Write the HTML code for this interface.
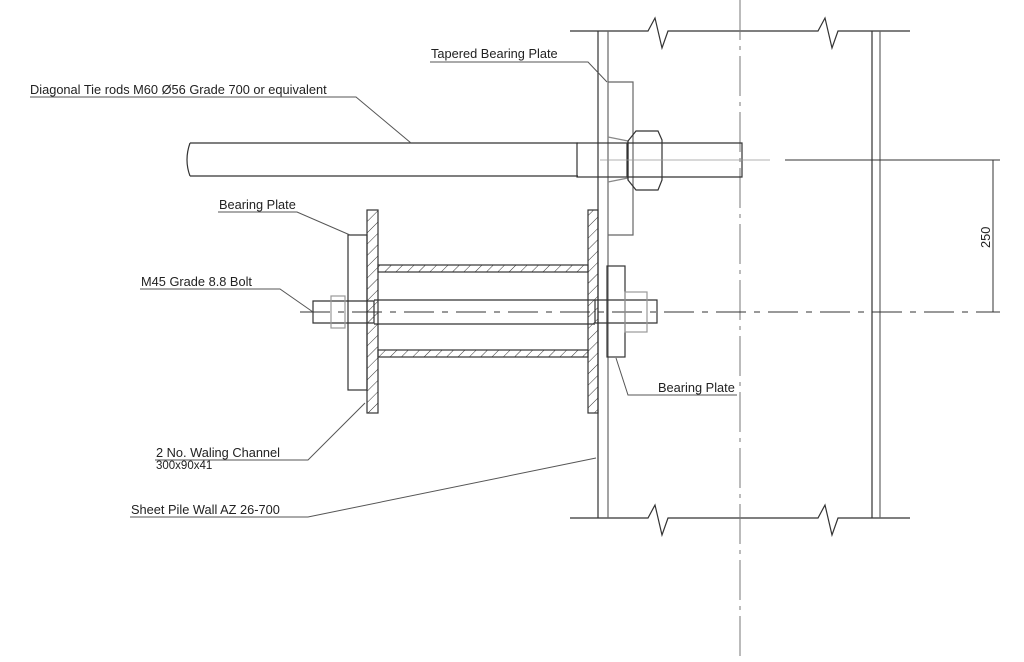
<!DOCTYPE html>
<html><head><style>
html,body{margin:0;padding:0;background:#fff;width:1024px;height:662px;overflow:hidden}
svg{display:block}
text{font-family:"Liberation Sans",Arial,sans-serif;font-size:12.8px;fill:#222}
</style></head><body>
<svg width="1024" height="662" viewBox="0 0 1024 662" xmlns="http://www.w3.org/2000/svg">
<defs>
<pattern id="h" width="8" height="8" patternUnits="userSpaceOnUse" patternTransform="rotate(45)">
<line x1="0" y1="0" x2="0" y2="8" stroke="#333" stroke-width="1"/>
</pattern>
</defs>
<g fill="none" stroke="#333" stroke-width="1.2">
<path d="M570 31 H648 L655 18 L662 48 L668 31 H818 L825 18 L832 48 L838 31 H910"/>
<path d="M570 518 H648 L655 505 L662 535 L668 518 H818 L825 505 L832 535 L838 518 H910"/>
<line x1="598" y1="31" x2="598" y2="518"/>
<line x1="608" y1="31" x2="608" y2="518" stroke="#666"/>
<line x1="872" y1="31" x2="872" y2="518"/>
<line x1="880" y1="31" x2="880" y2="518" stroke="#666"/>
<line x1="740" y1="0" x2="740" y2="662" stroke="#777" stroke-dasharray="40 6 4 6" stroke-width="1"/>
<path d="M190 143 H578 M190 176 H578 M190 143 Q184 160 190 176"/>
<rect x="577" y="143" width="50" height="34"/>
<path d="M608 82 H633 V235 H608" stroke="#666"/>
<path d="M608 137 L628 141 M608 182 L628 178" stroke="#888"/>
<path d="M628 141 L636 131 H658 L662 140 V180 L658 190 H636 L628 180 Z"/>
<line x1="628" y1="141" x2="628" y2="180"/>
<path d="M627 143 H742 V177 H627"/>
<line x1="600" y1="160" x2="770" y2="160" stroke="#999" stroke-width="0.8"/>
<line x1="785" y1="160" x2="1000" y2="160" stroke-width="1"/>
<line x1="993" y1="160" x2="993" y2="312" stroke-width="1"/>
<rect x="367" y="210" width="11" height="203" fill="url(#h)"/>
<rect x="378" y="265" width="210" height="7" fill="url(#h)"/>
<rect x="378" y="350" width="210" height="7" fill="url(#h)"/>
<rect x="588" y="210" width="10" height="203" fill="url(#h)"/>
<rect x="348" y="235" width="19" height="155"/>
<rect x="607" y="266" width="18" height="91"/>
<line x1="300" y1="312" x2="1000" y2="312" stroke-dasharray="30 8 6 8" stroke-width="1"/>
<path d="M313 301 H374 V323 H313 Z"/>
<rect x="331" y="296" width="14" height="32" stroke="#999"/>
<path d="M374 300 H595 M374 324 H595"/>
<path d="M595 300 H657 V323 H595 Z"/>
<rect x="625" y="292" width="22" height="40" stroke="#999"/>
</g>
<g fill="none" stroke="#555" stroke-width="1">
<path d="M430 62 H588 L607 82"/>
<path d="M30 97 H356 L411 143"/>
<path d="M218 212 H297 L350 235"/>
<path d="M140 289 H280 L313 312"/>
<path d="M616 358 L628 395 H737"/>
<path d="M155 460 H308 L365 403"/>
<path d="M130 517 H308 L596 458"/>
</g>
<text x="431" y="58">Tapered Bearing Plate</text>
<text x="30" y="94">Diagonal Tie rods M60 Ø56 Grade 700 or equivalent</text>
<text x="219" y="209">Bearing Plate</text>
<text x="141" y="286">M45 Grade 8.8 Bolt</text>
<text x="658" y="392">Bearing Plate</text>
<text x="156" y="457">2 No. Waling Channel</text>
<text x="156" y="469" style="font-size:11.5px">300x90x41</text>
<text x="131" y="514">Sheet Pile Wall AZ 26-700</text>
<text transform="translate(990 248) rotate(-90)">250</text>
</svg>
</body></html>
